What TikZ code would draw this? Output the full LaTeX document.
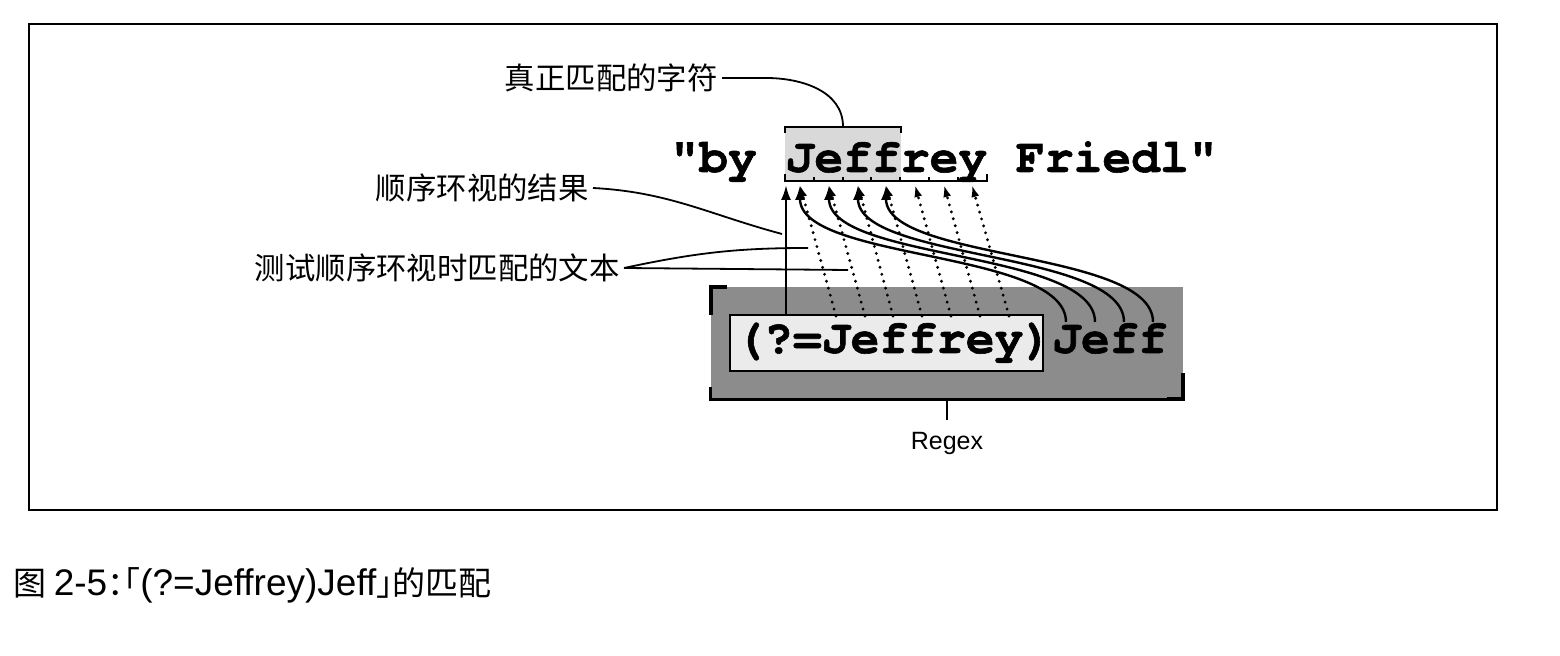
\documentclass[tikz,border=0pt]{standalone}
\usepackage{fontspec}
\newfontfamily\cjk{Noto Sans CJK SC}
\newfontfamily\codefont{TeX Gyre Cursor}[Ligatures=NoCommon, BoldFeatures={FakeBold=1.2}]
\newfontfamily\sansfont{Liberation Sans}
\usetikzlibrary{positioning}
\usetikzlibrary{arrows.meta}

\begin{document}
\begin{tikzpicture}
		[x=0.5pt, y=0.5pt,
		code/.style={font=\codefont\bfseries\fontsize{24pt}{29pt}\selectfont, inner sep=0pt, anchor=base west},
		note/.style={font=\cjk\fontsize{15.2pt}{18pt}\selectfont, inner sep=2pt, anchor=east},
		lead/.style={line width=0.9pt},
		hit/.style={line width=1.2pt, -{Latex[length=7.5pt, width=5pt]}},
		try/.style={line width=1.6pt, dash pattern=on 0pt off 3.6pt, line cap=round, -{Latex[length=6pt, width=4pt]}},
		corner/.style={line width=2pt}]
		\useasboundingbox (0,0) rectangle (1560,-656);
		\draw[line width=1pt] (29,-24) rectangle (1497,-510);

		% regex
		\node[fill=black!45, minimum width=236pt, minimum height=56pt, inner sep=0pt] (regex) at (947,-343) {};
		\node[draw, fill=black!8, line width=1pt, minimum width=156.5pt, minimum height=28pt, inner sep=0pt] (look) at (886.5,-343) {};
		\node[code] (pat) at (735,-353) {(?=Jeffrey)Jeff};
		\draw[corner] ([yshift=-14pt]regex.north west) |- ([xshift=8pt]regex.north west);
		\draw[corner] ([yshift=13pt]regex.south east) |- ([xshift=-8pt]regex.south east);
		\draw[line width=1.2pt] ([yshift=6pt]regex.south west) |- (regex.south east);
		\node[font=\sansfont\fontsize{12.5pt}{15pt}\selectfont, anchor=north, inner ysep=6pt] (name) at (947,-420) {Regex};
		\draw[line width=0.8pt] (regex.south) -- (name.north);

		% subject text
		\node[fill=black!15, minimum width=58pt, minimum height=27pt, inner sep=0pt] (hl) at (843,-154) {};
		\node[code] (str) at (670,-172) {"by Jeffrey Friedl"};
		\draw[line width=1pt] ([yshift=-3pt]hl.north west) |- (hl.north east) -- ++(0,-3pt);
		\draw[line width=1pt] (785,-174) |- (987,-181) -- (987,-174)
			(814,-181) -- (814,-177) (843,-181) -- (843,-177) (871,-181) -- (871,-177)
			(900,-181) -- (900,-177) (929,-181) -- (929,-177) (958,-181) -- (958,-177);

		\coordinate (t0) at (786,-185);
		\coordinate (t1) at (800,-185);
		\coordinate (t2) at (829,-185);
		\coordinate (t3) at (858,-185);
		\coordinate (t4) at (886,-185);
		\coordinate (t5) at (915,-185);
		\coordinate (t6) at (944,-185);
		\coordinate (t7) at (972,-185);
		\coordinate (r1) at (836,-316);
		\coordinate (r2) at (865,-316);
		\coordinate (r3) at (893,-316);
		\coordinate (r4) at (922,-316);
		\coordinate (r5) at (951,-316);
		\coordinate (r6) at (980,-316);
		\coordinate (r7) at (1009,-316);
		\coordinate (j1) at (1066,-322);
		\coordinate (j2) at (1095,-322);
		\coordinate (j3) at (1124,-322);
		\coordinate (j4) at (1153,-322);

		\draw[hit] (look.north -| t0) -- (t0);
		\draw[try] (r1) -- (t1);
		\draw[try] (r2) -- (t2);
		\draw[try] (r3) -- (t3);
		\draw[try] (r4) -- (t4);
		\draw[try] (r5) -- (t5);
		\draw[try] (r6) -- (t6);
		\draw[try] (r7) -- (t7);
		\draw[hit] (j1) .. controls +(0,72) and +(0,-76) .. (t1);
		\draw[hit] (j2) .. controls +(0,72) and +(0,-76) .. (t2);
		\draw[hit] (j3) .. controls +(0,72) and +(0,-76) .. (t3);
		\draw[hit] (j4) .. controls +(0,72) and +(0,-76) .. (t4);

		% labels
		\node[note] (real) at (722,-78) {真正匹配的字符};
		\node[note] (result) at (593,-188) {顺序环视的结果};
		\node[note] (test) at (624,-268) {测试顺序环视时匹配的文本};
		\coordinate (res) at (782,-234);
		\coordinate (testa) at (808,-248);
		\coordinate (testb) at (848,-270);
		\draw[lead] (real.east) -- ++(44,0) to[out=0, in=90] (hl.north);
		\draw[lead] (result.east) to[out=-3, in=165] (res);
		\draw[lead] (test.east) to[out=12, in=180] (testa);
		\draw[lead] (test.east) -- (testb);

		\node[anchor=west, inner sep=0pt] (caption) at (13,-585) {\cjk\fontsize{16.5pt}{19pt}\selectfont 图 {\sansfont\fontsize{18.5pt}{19pt}\selectfont 2-5}{\addfontfeature{RawFeature=+halt}：「}{\sansfont\fontsize{18.5pt}{19pt}\selectfont (?=Jeffrey)Jeff}{\addfontfeature{RawFeature=+halt}」}的匹配};
	\end{tikzpicture}
\end{document}
